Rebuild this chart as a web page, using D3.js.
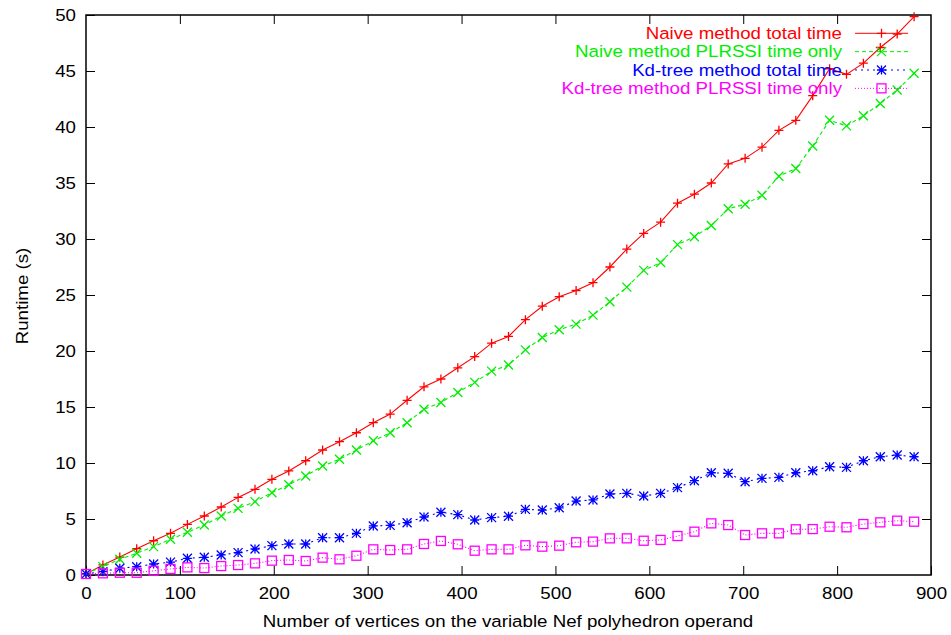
<!DOCTYPE html>
<html>
<head>
<meta charset="utf-8">
<script src="https://cdn.jsdelivr.net/npm/d3@7"></script>
<style>
  body { margin: 0; background: #fff; }
  text { font-family: "Liberation Sans", Arial, sans-serif; }
</style>
</head>
<body>
<svg id="chart" width="951" height="635"></svg>
<script>
// x values: number of vertices (step 18)
var vertices = d3.range(0, 50).map(function (i) { return i * 18; });

var naiveTotal = [0.1, 0.9, 1.6, 2.35, 3.06, 3.72, 4.52, 5.27, 6.07, 6.93,
  7.65, 8.54, 9.29, 10.2, 11.16, 11.9, 12.7, 13.6, 14.37, 15.6,
  16.8, 17.5, 18.5, 19.5, 20.7, 21.3, 22.8, 24.0, 24.85, 25.4,
  26.1, 27.5, 29.1, 30.5, 31.5, 33.2, 34.0, 35.0, 36.7, 37.2,
  38.2, 39.7, 40.6, 42.8, 45.2, 44.7, 45.7, 47.1, 48.3, 49.85];

var naivePlrssi = [0.1, 0.75, 1.4, 1.94, 2.53, 3.19, 3.81, 4.46, 5.27, 5.95,
  6.55, 7.35, 8.06, 8.84, 9.73, 10.33, 11.16, 11.99, 12.7, 13.6,
  14.8, 15.4, 16.3, 17.2, 18.2, 18.75, 20.1, 21.2, 21.9, 22.4,
  23.2, 24.4, 25.7, 27.2, 27.9, 29.5, 30.2, 31.2, 32.7, 33.1,
  33.9, 35.6, 36.3, 38.3, 40.6, 40.1, 41.0, 42.1, 43.3, 44.8];

var kdTotal = [0.1, 0.3, 0.6, 0.74, 0.98, 1.15, 1.49, 1.58, 1.79, 2.0,
  2.32, 2.62, 2.77, 2.77, 3.33, 3.33, 3.72, 4.38, 4.43, 4.67,
  5.18, 5.6, 5.39, 4.91, 5.12, 5.25, 5.86, 5.8, 6.0, 6.6,
  6.7, 7.23, 7.29, 7.05, 7.29, 7.8, 8.42, 9.13, 9.08, 8.33,
  8.63, 8.72, 9.13, 9.31, 9.67, 9.61, 10.2, 10.56, 10.71, 10.56];

var kdPlrssi = [0.09, 0.15, 0.2, 0.2, 0.38, 0.54, 0.68, 0.62, 0.8, 0.89,
  1.04, 1.28, 1.34, 1.25, 1.55, 1.4, 1.72, 2.29, 2.23, 2.29,
  2.77, 3.04, 2.74, 2.17, 2.29, 2.29, 2.65, 2.53, 2.62, 2.92,
  2.98, 3.27, 3.27, 3.06, 3.13, 3.48, 3.87, 4.61, 4.46, 3.57,
  3.72, 3.72, 4.08, 4.1, 4.31, 4.26, 4.55, 4.7, 4.85, 4.76];

var seriesNames = ["Naive method total time", "Naive method PLRSSI time only",
  "Kd-tree method total time", "Kd-tree method PLRSSI time only"];
var seriesColors = ["#ff0000", "#00ee00", "#0000ff", "#ff00ff"];
var seriesDash = [null, "4,3", "2,4", "1,2"];
var seriesMarker = ["plus", "cross", "star", "square"];
var seriesValues = [naiveTotal, naivePlrssi, kdTotal, kdPlrssi];

var xTicks = [0, 100, 200, 300, 400, 500, 600, 700, 800, 900];
var yTicks = [0, 5, 10, 15, 20, 25, 30, 35, 40, 45, 50];

var svg = d3.select("#chart");
var plotLeft = 86, plotRight = 931, plotTop = 15, plotBottom = 575;
var fontSize = 17, stretch = 1.1; // gnuplot font looks a bit wide

var x = d3.scaleLinear().domain([0, 900]).range([plotLeft, plotRight]);
var y = d3.scaleLinear().domain([0, 50]).range([plotBottom, plotTop]);

// text helper: placed by transform so the horizontal stretch keeps the anchor
function addText(parent, px, py, str, anchor, color, rot) {
    return parent.append("text")
        .attr("transform", "translate(" + px + "," + py + ")" + (rot ? " rotate(" + rot + ")" : "") + " scale(" + stretch + ",1)")
        .attr("text-anchor", anchor)
        .attr("font-size", fontSize)
        .attr("fill", color || "#000")
        .text(str);
}

// axes with inward ticks, mirrored on top/right
svg.append("g")
    .attr("transform", "translate(0," + plotBottom + ")")
    .call(d3.axisBottom(x).tickValues(xTicks).tickSizeInner(-9).tickSizeOuter(0).tickPadding(12))
    .call(function (g) { g.select(".domain").remove(); });
svg.append("g")
    .attr("transform", "translate(0," + plotTop + ")")
    .call(d3.axisTop(x).tickValues(xTicks.slice(1, -1)).tickSizeInner(-9).tickSizeOuter(0).tickFormat(""))
    .call(function (g) { g.select(".domain").remove(); });
svg.append("g")
    .attr("transform", "translate(" + plotLeft + ",0)")
    .call(d3.axisLeft(y).tickValues(yTicks).tickSizeInner(-9).tickSizeOuter(0).tickPadding(10))
    .call(function (g) { g.select(".domain").remove(); });
svg.append("g")
    .attr("transform", "translate(" + plotRight + ",0)")
    .call(d3.axisRight(y).tickValues(yTicks.slice(1, -1)).tickSizeInner(-9).tickSizeOuter(0).tickFormat(""))
    .call(function (g) { g.select(".domain").remove(); });

svg.selectAll(".tick line").attr("stroke", "#000").attr("stroke-width", 1);
svg.selectAll(".tick text")
    .attr("font-size", fontSize).attr("fill", "#000")
    .attr("transform", "scale(" + stretch + ",1)")
    .attr("x", function () { var v = +d3.select(this).attr("x") || 0; return v / stretch; })
    .style("font-family", "'Liberation Sans', Arial, sans-serif");

svg.append("rect")
    .attr("x", plotLeft).attr("y", plotTop)
    .attr("width", plotRight - plotLeft).attr("height", plotBottom - plotTop)
    .attr("fill", "none").attr("stroke", "#000").attr("stroke-width", 1.5);

// axis titles
addText(svg, 508, 627, "Number of vertices on the variable Nef polyhedron operand", "middle");
addText(svg, 28, 296, "Runtime (s)", "middle", "#000", -90);

// marker drawing
function drawMarker(g, type, cx, cy, color) {
    var s = 4.5;
    if (type === "plus") {
        g.append("path").attr("d", "M" + (cx - s) + "," + cy + "H" + (cx + s) + "M" + cx + "," + (cy - s) + "V" + (cy + s))
            .attr("stroke", color).attr("stroke-width", 1.3);
    } else if (type === "cross") {
        g.append("path").attr("d", "M" + (cx - s) + "," + (cy - s) + "L" + (cx + s) + "," + (cy + s) + "M" + (cx - s) + "," + (cy + s) + "L" + (cx + s) + "," + (cy - s))
            .attr("stroke", color).attr("stroke-width", 1.3);
    } else if (type === "star") {
        g.append("path").attr("d", "M" + (cx - s) + "," + cy + "H" + (cx + s) + "M" + cx + "," + (cy - s) + "V" + (cy + s) +
            "M" + (cx - s) + "," + (cy - s) + "L" + (cx + s) + "," + (cy + s) + "M" + (cx - s) + "," + (cy + s) + "L" + (cx + s) + "," + (cy - s))
            .attr("stroke", color).attr("stroke-width", 1.3);
    } else {
        g.append("rect").attr("x", cx - s).attr("y", cy - s).attr("width", 2 * s).attr("height", 2 * s)
            .attr("fill", "none").attr("stroke", color).attr("stroke-width", 1.3);
    }
}

var line = d3.line()
    .x(function (d) { return x(d[0]); })
    .y(function (d) { return y(d[1]); });

var legendTextX = 842, legendLineX1 = 855, legendLineX2 = 908, legendY0 = 33.3, legendStep = 18.35;

seriesValues.forEach(function (vals, k) {
    var g = svg.append("g");
    var pts = vertices.map(function (v, i) { return [v, vals[i]]; });
    var ly = legendY0 + k * legendStep;

    addText(g, legendTextX, ly + 5.5, seriesNames[k], "end", seriesColors[k]);
    g.append("line")
        .attr("x1", legendLineX1).attr("x2", legendLineX2)
        .attr("y1", ly).attr("y2", ly)
        .attr("stroke", seriesColors[k]).attr("stroke-width", 1)
        .attr("stroke-dasharray", seriesDash[k]);
    drawMarker(g, seriesMarker[k], (legendLineX1 + legendLineX2) / 2, ly, seriesColors[k]);

    g.append("path")
        .datum(pts)
        .attr("d", line)
        .attr("fill", "none")
        .attr("stroke", seriesColors[k])
        .attr("stroke-width", 1.1)
        .attr("stroke-dasharray", seriesDash[k]);
    pts.forEach(function (p) {
        drawMarker(g, seriesMarker[k], x(p[0]), y(p[1]), seriesColors[k]);
    });
});
</script>
</body>
</html>
